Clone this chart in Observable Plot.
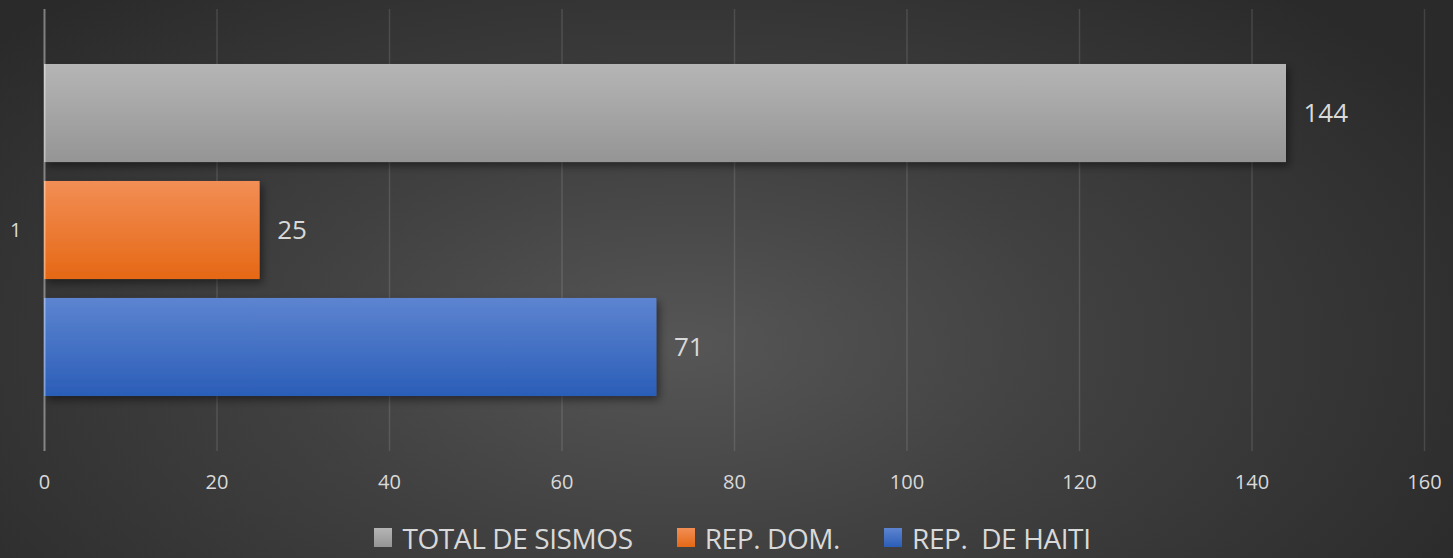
<!DOCTYPE html>
<html>
<head>
<meta charset="utf-8">
<script src="https://cdn.jsdelivr.net/npm/d3@7"></script>
<script src="https://cdn.jsdelivr.net/npm/@observablehq/plot@0.6"></script>
<style>
  html, body { margin: 0; padding: 0; }
  body {
    width: 1453px; height: 558px; overflow: hidden;
    background: radial-gradient(ellipse 62% 85% at 47% 62%, #565656 0%, #404040 45%, #2a2a2a 100%);
    font-family: "Open Sans", sans-serif;
    color: #d9d9d9;
  }
  #chart svg { display: block; background: transparent; }
  #legend {
    height: 48px; display: flex; align-items: center; justify-content: center;
    padding-left: 12px; padding-top: 7px; box-sizing: border-box;
    font-size: 28px; letter-spacing: -0.4px; color: #d9d9d9; white-space: pre;
  }
  .item { display: flex; align-items: center; margin: 0 22px; }
  .sw { width: 18px; height: 19px; margin-right: 10px; }
</style>
</head>
<body>
<div id="chart"></div>
<div id="legend"></div>
<script>
// Data
const categories = ["1"];
const series = ["TOTAL DE SISMOS", "REP. DOM.", "REP.  DE HAITI"];
const values = [144, 25, 71];
const xTicks = [0, 20, 40, 60, 80, 100, 120, 140, 160];

// Styles
const gradStops = [
  ["#b5b5b5", "#959595"],
  ["#f28e55", "#e56815"],
  ["#5d84d0", "#2b5eb8"]
];

const data = series.map((s, i) => ({cat: categories[0], series: s, value: values[i], idx: i}));

const plot = Plot.plot({
  width: 1453,
  height: 510,
  marginLeft: 44,
  marginRight: 29,
  marginTop: 9,
  marginBottom: 59,
  style: {background: "transparent", color: "#d9d9d9", fontFamily: "Open Sans, sans-serif", fontSize: "20px"},
  x: {domain: [0, 160], ticks: xTicks, tickSize: 0, tickPadding: 23, label: null, tickFormat: d => String(d)},
  y: {domain: series, axis: null, paddingInner: 0.162, paddingOuter: 0.47, round: false},
  fy: {domain: categories, padding: 0, axis: "left", tickSize: 0, tickPadding: 23, label: null, round: false},
  color: {type: "identity"},
  marks: [
    Plot.ruleX(xTicks.filter(d => d !== 0), {x: d => d, stroke: "#ffffff", strokeOpacity: 0.12, strokeWidth: 1.5}),
    Plot.barX(data, {x: "value", y: "series", fy: "cat", fill: d => `url(#grad${d.idx})`}),
    Plot.ruleX([0], {stroke: "#ffffff", strokeOpacity: 0.4, strokeWidth: 2}),
    Plot.text(data, {x: "value", y: "series", fy: "cat", text: d => String(d.value), textAnchor: "start", dx: 17, fontSize: 26, fill: "#d9d9d9"})
  ]
});

const svg = d3.select(plot);
const defs = svg.insert("defs", ":first-child");
gradStops.forEach((g, i) => {
  const lg = defs.append("linearGradient").attr("id", `grad${i}`).attr("x1", 0).attr("y1", 0).attr("x2", 0).attr("y2", 1);
  lg.append("stop").attr("offset", "0%").attr("stop-color", g[0]);
  lg.append("stop").attr("offset", "100%").attr("stop-color", g[1]);
});
const f = defs.append("filter").attr("id", "shadow").attr("x", "-5%").attr("y", "-20%").attr("width", "115%").attr("height", "150%");
f.append("feDropShadow").attr("dx", 3).attr("dy", 4).attr("stdDeviation", 4).attr("flood-color", "#000").attr("flood-opacity", 0.45);
svg.selectAll("g[aria-label='bar'] rect").attr("filter", "url(#shadow)");
// make every axis label the same size as the reference
svg.selectAll("g").filter(function() {
  return (this.getAttribute("aria-label") || "").includes("axis");
}).style("font-size", "20px").selectAll("text").style("font-size", "20px");

document.getElementById("chart").appendChild(plot);

const legend = d3.select("#legend");
series.forEach((s, i) => {
  const it = legend.append("div").attr("class", "item");
  it.append("div").attr("class", "sw").style("background", `linear-gradient(${gradStops[i][0]}, ${gradStops[i][1]})`);
  it.append("span").text(s);
});
</script>
</body>
</html>
